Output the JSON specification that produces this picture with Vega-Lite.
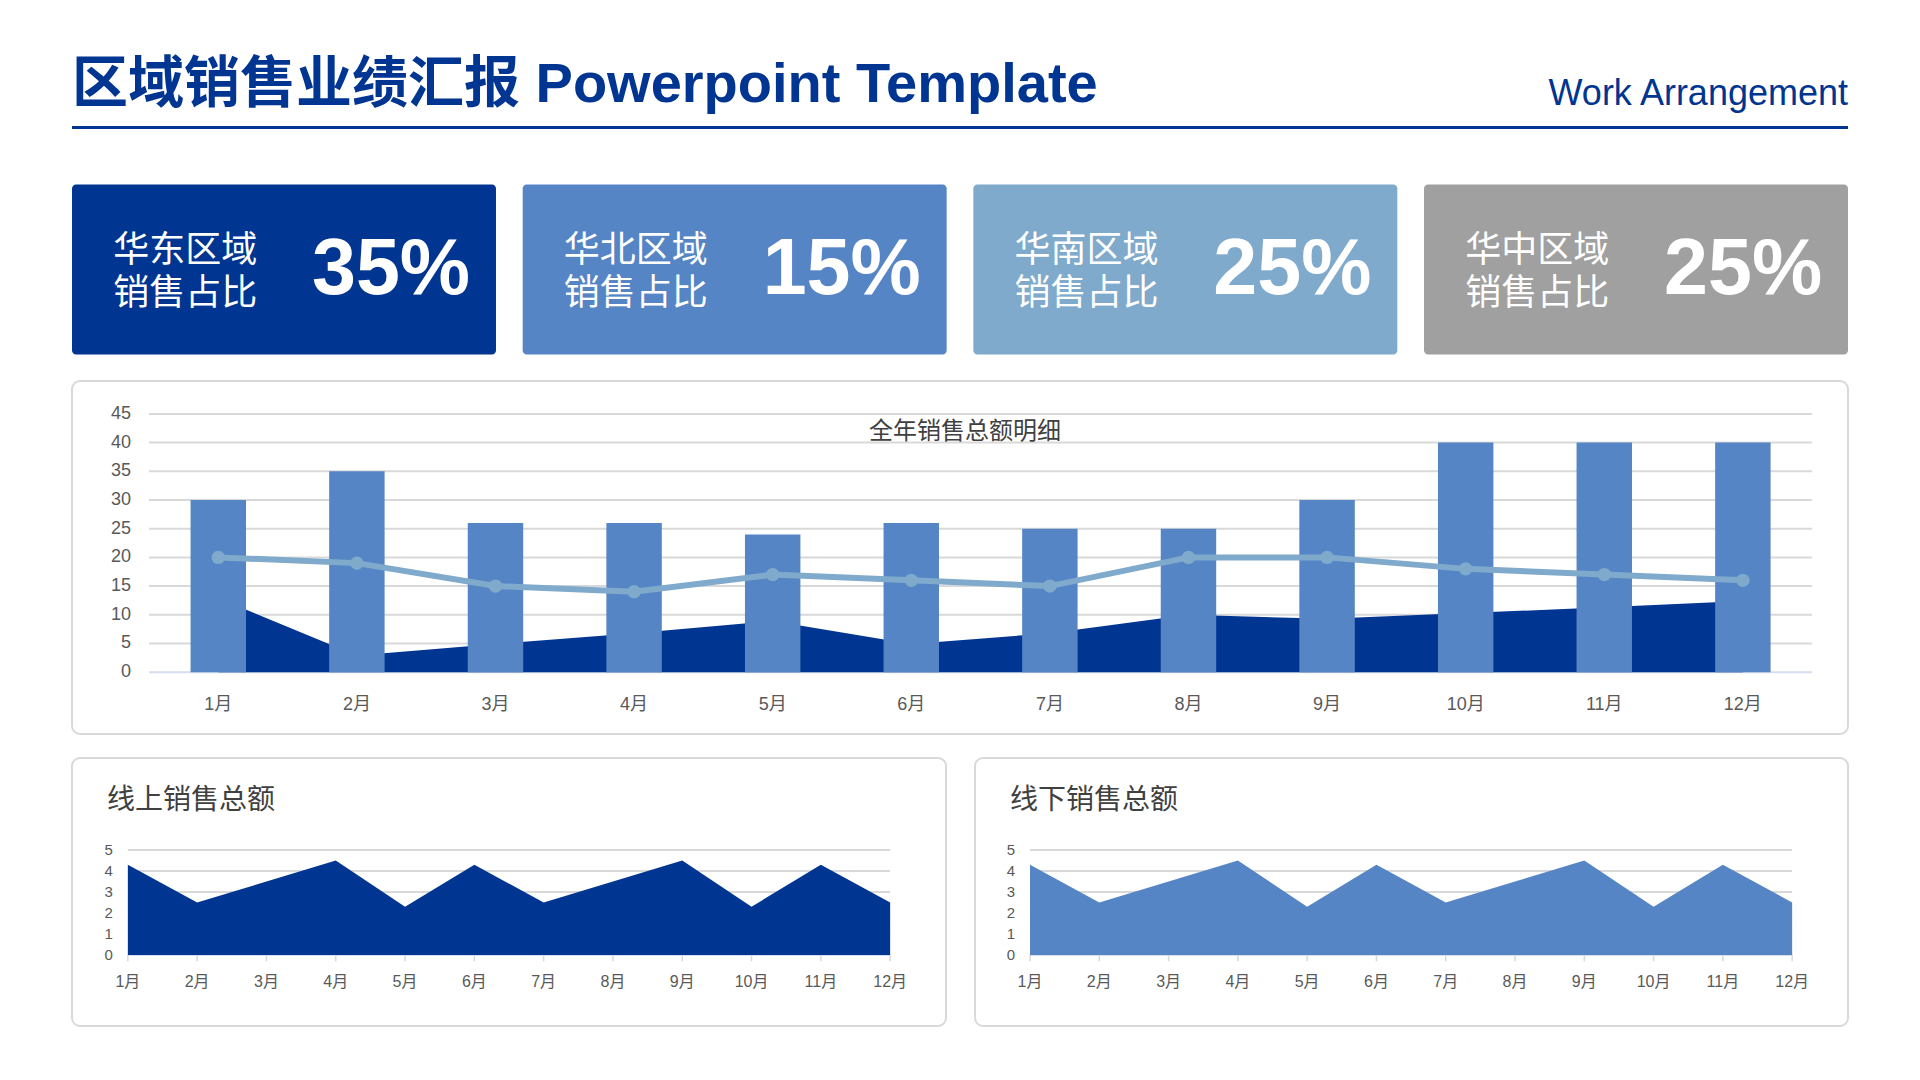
{
  "$schema": "https://vega.github.io/schema/vega-lite/v6.json",
  "background": "white",
  "padding": {"left": 71, "top": 56, "right": 0, "bottom": 0},
  "config": {
    "font": "Liberation Sans, Noto Sans CJK SC",
    "view": {"stroke": null},
    "title": {"font": "Liberation Sans, Noto Sans CJK SC"}
  },
  "datasets": {
    "cards": [
      {"region": "华东", "label": "华东区域\n销售占比", "share": 0.35},
      {"region": "华北", "label": "华北区域\n销售占比", "share": 0.15},
      {"region": "华南", "label": "华南区域\n销售占比", "share": 0.25},
      {"region": "华中", "label": "华中区域\n销售占比", "share": 0.25}
    ],
    "monthly": [
      {"month": "1月", "total": 30, "trend": 20, "base": 12.9},
      {"month": "2月", "total": 35, "trend": 19, "base": 2.9},
      {"month": "3月", "total": 26, "trend": 15, "base": 4.9},
      {"month": "4月", "total": 26, "trend": 14, "base": 6.8},
      {"month": "5月", "total": 24, "trend": 17, "base": 8.9},
      {"month": "6月", "total": 26, "trend": 16, "base": 4.9},
      {"month": "7月", "total": 25, "trend": 15, "base": 6.8},
      {"month": "8月", "total": 25, "trend": 20, "base": 10.0},
      {"month": "9月", "total": 30, "trend": 20, "base": 9.3},
      {"month": "10月", "total": 40, "trend": 18, "base": 10.3},
      {"month": "11月", "total": 40, "trend": 17, "base": 11.3},
      {"month": "12月", "total": 40, "trend": 16, "base": 12.4}
    ],
    "channel": [
      {"month": "1月", "online": 4.3, "offline": 4.3},
      {"month": "2月", "online": 2.5, "offline": 2.5},
      {"month": "3月", "online": 3.5, "offline": 3.5},
      {"month": "4月", "online": 4.5, "offline": 4.5},
      {"month": "5月", "online": 2.3, "offline": 2.3},
      {"month": "6月", "online": 4.3, "offline": 4.3},
      {"month": "7月", "online": 2.5, "offline": 2.5},
      {"month": "8月", "online": 3.5, "offline": 3.5},
      {"month": "9月", "online": 4.5, "offline": 4.5},
      {"month": "10月", "online": 2.3, "offline": 2.3},
      {"month": "11月", "online": 4.3, "offline": 4.3},
      {"month": "12月", "online": 2.5, "offline": 2.5}
    ],
    "gridMain": [{"v": 0}, {"v": 5}, {"v": 10}, {"v": 15}, {"v": 20}, {"v": 25}, {"v": 30}, {"v": 35}, {"v": 40}, {"v": 45}],
    "gridMini": [{"v": 0}, {"v": 1}, {"v": 2}, {"v": 3}, {"v": 4}, {"v": 5}]
  },
  "spacing": 51.5,
  "vconcat": [
    {
      "spacing": 0,
      "hconcat": [
        {
          "width": 1200, "height": 3,
          "view": {"fill": "#003591", "stroke": null},
          "title": {"text": "区域销售业绩汇报 Powerpoint Template", "anchor": "start", "frame": "group", "baseline": "alphabetic", "offset": -36, "fontSize": 56, "fontWeight": "bold", "color": "#003591"},
          "data": {"values": [{"part": "header"}]},
          "mark": {"type": "text", "opacity": 0},
          "encoding": {}
        },
        {
          "width": 576, "height": 3,
          "view": {"fill": "#003591", "stroke": null},
          "title": {"text": "Work Arrangement", "anchor": "end", "frame": "group", "baseline": "alphabetic", "offset": -19, "fontSize": 36, "fontWeight": "normal", "color": "#003591"},
          "data": {"values": [{"part": "header"}]},
          "mark": {"type": "text", "opacity": 0},
          "encoding": {}
        }
      ]
    },
    {
      "spacing": 25.5,
      "vconcat": [
        {
          "width": 1776, "height": 170,
          "data": {"name": "cards"},
          "encoding": {"x": {"field": "region", "type": "nominal", "scale": {"type": "band", "domain": ["华东", "华北", "华南", "华中"], "paddingInner": 0.0592, "paddingOuter": 0}, "axis": null}},
          "layer": [
            {
              "mark": {"type": "rect", "cornerRadius": 4},
              "encoding": {"color": {"field": "region", "type": "nominal", "scale": {"domain": ["华东", "华北", "华南", "华中"], "range": ["#003591", "#5585c5", "#7faacc", "#a0a0a0"]}, "legend": null}}
            },
            {
              "mark": {"type": "text", "align": "left", "baseline": "middle", "lineBreak": "\n", "fontSize": 36, "lineHeight": 43, "dy": -19, "color": "white"},
              "encoding": {
                "x": {"field": "region", "type": "nominal", "bandPosition": 0.097, "scale": {"type": "band", "domain": ["华东", "华北", "华南", "华中"], "paddingInner": 0.0592, "paddingOuter": 0}, "axis": null},
                "text": {"field": "label"}
              }
            },
            {
              "mark": {"type": "text", "align": "right", "baseline": "middle", "fontSize": 79, "fontWeight": "bold", "color": "white", "font": "Liberation Sans"},
              "encoding": {
                "x": {"field": "region", "type": "nominal", "bandPosition": 0.939, "scale": {"type": "band", "domain": ["华东", "华北", "华南", "华中"], "paddingInner": 0.0592, "paddingOuter": 0}, "axis": null},
                "text": {"field": "share", "type": "quantitative", "format": ".0%"}
              }
            }
          ]
        },
        {
          "spacing": 22,
          "vconcat": [
            {
              "width": 1776, "height": 353,
              "view": {"stroke": "#d9d9d9", "strokeWidth": 2, "cornerRadius": 8},
              "title": {"text": "全年销售总额明细", "anchor": "middle", "frame": "group", "baseline": "middle", "offset": -75, "dx": 5, "fontSize": 24, "fontWeight": "normal", "color": "#404040"},
              "layer": [
                {
                  "data": {"name": "gridMain"},
                  "mark": {"type": "rule", "strokeWidth": 2},
                  "encoding": {
                    "y": {"field": "v", "type": "quantitative", "scale": {"domain": [-10.77, 50.73], "nice": false, "zero": false}, "axis": null},
                    "x": {"datum": "1月", "type": "ordinal", "bandPosition": -0.75, "scale": {"type": "band", "domain": ["1月", "2月", "3月", "4月", "5月", "6月", "7月", "8月", "9月", "10月", "11月", "12月"], "paddingInner": 0.6, "paddingOuter": 0.707, "align": 0.605}, "axis": null},
                    "x2": {"datum": "12月", "bandPosition": 1.746},
                    "color": {"condition": {"test": "datum.v === 0", "value": "#d5deee"}, "value": "#d9d9d9"}
                  }
                },
                {
                  "data": {"name": "gridMain"},
                  "mark": {"type": "text", "align": "right", "baseline": "middle", "fontSize": 18, "color": "#595959"},
                  "encoding": {
                    "y": {"field": "v", "type": "quantitative", "scale": {"domain": [-10.77, 50.73], "nice": false, "zero": false}, "axis": null},
                    "x": {"datum": "1月", "type": "ordinal", "bandPosition": -1.075, "scale": {"type": "band", "domain": ["1月", "2月", "3月", "4月", "5月", "6月", "7月", "8月", "9月", "10月", "11月", "12月"], "paddingInner": 0.6, "paddingOuter": 0.707, "align": 0.605}, "axis": null},
                    "text": {"field": "v", "type": "quantitative"}
                  }
                },
                {
                  "data": {"name": "monthly"},
                  "mark": {"type": "area", "color": "#003591"},
                  "encoding": {
                    "x": {"field": "month", "type": "ordinal", "bandPosition": 0.5, "scale": {"type": "band", "domain": ["1月", "2月", "3月", "4月", "5月", "6月", "7月", "8月", "9月", "10月", "11月", "12月"], "paddingInner": 0.6, "paddingOuter": 0.707, "align": 0.605}, "axis": null},
                    "y": {"field": "base", "type": "quantitative", "scale": {"domain": [-10.77, 50.73], "nice": false, "zero": false}, "axis": null},
                    "y2": {"datum": 0}
                  }
                },
                {
                  "data": {"name": "monthly"},
                  "mark": {"type": "bar", "color": "#5585c5"},
                  "encoding": {
                    "x": {"field": "month", "type": "ordinal", "scale": {"type": "band", "domain": ["1月", "2月", "3月", "4月", "5月", "6月", "7月", "8月", "9月", "10月", "11月", "12月"], "paddingInner": 0.6, "paddingOuter": 0.707, "align": 0.605}, "axis": null},
                    "y": {"field": "total", "type": "quantitative", "scale": {"domain": [-10.77, 50.73], "nice": false, "zero": false}, "axis": null},
                    "y2": {"datum": 0}
                  }
                },
                {
                  "data": {"name": "monthly"},
                  "mark": {"type": "line", "color": "#7faacc", "strokeWidth": 6, "point": {"filled": true, "size": 180, "color": "#7faacc"}},
                  "encoding": {
                    "x": {"field": "month", "type": "ordinal", "bandPosition": 0.5, "scale": {"type": "band", "domain": ["1月", "2月", "3月", "4月", "5月", "6月", "7月", "8月", "9月", "10月", "11月", "12月"], "paddingInner": 0.6, "paddingOuter": 0.707, "align": 0.605}, "axis": null},
                    "y": {"field": "trend", "type": "quantitative", "scale": {"domain": [-10.77, 50.73], "nice": false, "zero": false}, "axis": null}
                  }
                },
                {
                  "data": {"name": "monthly"},
                  "mark": {"type": "text", "align": "center", "baseline": "middle", "fontSize": 18, "color": "#595959"},
                  "encoding": {
                    "x": {"field": "month", "type": "ordinal", "bandPosition": 0.5, "scale": {"type": "band", "domain": ["1月", "2月", "3月", "4月", "5月", "6月", "7月", "8月", "9月", "10月", "11月", "12月"], "paddingInner": 0.6, "paddingOuter": 0.707, "align": 0.605}, "axis": null},
                    "y": {"datum": -5.75, "type": "quantitative", "scale": {"domain": [-10.77, 50.73], "nice": false, "zero": false}, "axis": null},
                    "text": {"field": "month"}
                  }
                }
              ]
            },
            {
              "spacing": 27,
              "hconcat": [
                {
                  "width": 874, "height": 268,
                  "view": {"stroke": "#d9d9d9", "strokeWidth": 2, "cornerRadius": 8},
                  "title": {"text": "线上销售总额", "anchor": "start", "frame": "group", "baseline": "middle", "offset": -71, "dx": 35, "fontSize": 28, "fontWeight": "normal", "color": "#404040"},
                  "layer": [
                    {
                      "data": {"name": "gridMini"},
                      "mark": {"type": "rule", "strokeWidth": 2},
                      "encoding": {
                        "y": {"field": "v", "type": "quantitative", "scale": {"domain": [-3.381, 9.381], "nice": false, "zero": false}, "axis": null},
                        "x": {"datum": "1月", "type": "ordinal", "bandPosition": 0.5, "scale": {"type": "band", "domain": ["1月", "2月", "3月", "4月", "5月", "6月", "7月", "8月", "9月", "10月", "11月", "12月"], "paddingInner": 0, "paddingOuter": 0.306, "align": 0.5}, "axis": null},
                        "x2": {"datum": "12月", "bandPosition": 0.5},
                        "color": {"condition": {"test": "datum.v === 0", "value": "#d5deee"}, "value": "#d9d9d9"}
                      }
                    },
                    {
                      "data": {"name": "gridMini"},
                      "mark": {"type": "text", "align": "right", "baseline": "middle", "fontSize": 15, "color": "#595959"},
                      "encoding": {
                        "y": {"field": "v", "type": "quantitative", "scale": {"domain": [-3.381, 9.381], "nice": false, "zero": false}, "axis": null},
                        "x": {"datum": "1月", "type": "ordinal", "bandPosition": 0.284, "scale": {"type": "band", "domain": ["1月", "2月", "3月", "4月", "5月", "6月", "7月", "8月", "9月", "10月", "11月", "12月"], "paddingInner": 0, "paddingOuter": 0.306, "align": 0.5}, "axis": null},
                        "text": {"field": "v", "type": "quantitative"}
                      }
                    },
                    {
                      "data": {"name": "channel"},
                      "mark": {"type": "rule", "color": "#d9d9d9", "strokeWidth": 1.5},
                      "encoding": {
                        "x": {"field": "month", "type": "ordinal", "bandPosition": 0.5, "scale": {"type": "band", "domain": ["1月", "2月", "3月", "4月", "5月", "6月", "7月", "8月", "9月", "10月", "11月", "12月"], "paddingInner": 0, "paddingOuter": 0.306, "align": 0.5}, "axis": null},
                        "y": {"datum": 0, "type": "quantitative", "scale": {"domain": [-3.381, 9.381], "nice": false, "zero": false}, "axis": null},
                        "y2": {"datum": -0.3}
                      }
                    },
                    {
                      "data": {"name": "channel"},
                      "mark": {"type": "area", "color": "#003591"},
                      "encoding": {
                        "x": {"field": "month", "type": "ordinal", "bandPosition": 0.5, "scale": {"type": "band", "domain": ["1月", "2月", "3月", "4月", "5月", "6月", "7月", "8月", "9月", "10月", "11月", "12月"], "paddingInner": 0, "paddingOuter": 0.306, "align": 0.5}, "axis": null},
                        "y": {"field": "online", "type": "quantitative", "scale": {"domain": [-3.381, 9.381], "nice": false, "zero": false}, "axis": null},
                        "y2": {"datum": 0}
                      }
                    },
                    {
                      "data": {"name": "channel"},
                      "mark": {"type": "text", "align": "center", "baseline": "middle", "fontSize": 16, "color": "#595959"},
                      "encoding": {
                        "x": {"field": "month", "type": "ordinal", "bandPosition": 0.5, "scale": {"type": "band", "domain": ["1月", "2月", "3月", "4月", "5月", "6月", "7月", "8月", "9月", "10月", "11月", "12月"], "paddingInner": 0, "paddingOuter": 0.306, "align": 0.5}, "axis": null},
                        "y": {"datum": -1.286, "type": "quantitative", "scale": {"domain": [-3.381, 9.381], "nice": false, "zero": false}, "axis": null},
                        "text": {"field": "month"}
                      }
                    }
                  ]
                },
                {
                  "width": 873, "height": 268,
                  "view": {"stroke": "#d9d9d9", "strokeWidth": 2, "cornerRadius": 8},
                  "title": {"text": "线下销售总额", "anchor": "start", "frame": "group", "baseline": "middle", "offset": -71, "dx": 35, "fontSize": 28, "fontWeight": "normal", "color": "#404040"},
                  "layer": [
                    {
                      "data": {"name": "gridMini"},
                      "mark": {"type": "rule", "strokeWidth": 2},
                      "encoding": {
                        "y": {"field": "v", "type": "quantitative", "scale": {"domain": [-3.381, 9.381], "nice": false, "zero": false}, "axis": null},
                        "x": {"datum": "1月", "type": "ordinal", "bandPosition": 0.5, "scale": {"type": "band", "domain": ["1月", "2月", "3月", "4月", "5月", "6月", "7月", "8月", "9月", "10月", "11月", "12月"], "paddingInner": 0, "paddingOuter": 0.3, "align": 0.49}, "axis": null},
                        "x2": {"datum": "12月", "bandPosition": 0.5},
                        "color": {"condition": {"test": "datum.v === 0", "value": "#d5deee"}, "value": "#d9d9d9"}
                      }
                    },
                    {
                      "data": {"name": "gridMini"},
                      "mark": {"type": "text", "align": "right", "baseline": "middle", "fontSize": 15, "color": "#595959"},
                      "encoding": {
                        "y": {"field": "v", "type": "quantitative", "scale": {"domain": [-3.381, 9.381], "nice": false, "zero": false}, "axis": null},
                        "x": {"datum": "1月", "type": "ordinal", "bandPosition": 0.284, "scale": {"type": "band", "domain": ["1月", "2月", "3月", "4月", "5月", "6月", "7月", "8月", "9月", "10月", "11月", "12月"], "paddingInner": 0, "paddingOuter": 0.3, "align": 0.49}, "axis": null},
                        "text": {"field": "v", "type": "quantitative"}
                      }
                    },
                    {
                      "data": {"name": "channel"},
                      "mark": {"type": "rule", "color": "#d9d9d9", "strokeWidth": 1.5},
                      "encoding": {
                        "x": {"field": "month", "type": "ordinal", "bandPosition": 0.5, "scale": {"type": "band", "domain": ["1月", "2月", "3月", "4月", "5月", "6月", "7月", "8月", "9月", "10月", "11月", "12月"], "paddingInner": 0, "paddingOuter": 0.3, "align": 0.49}, "axis": null},
                        "y": {"datum": 0, "type": "quantitative", "scale": {"domain": [-3.381, 9.381], "nice": false, "zero": false}, "axis": null},
                        "y2": {"datum": -0.3}
                      }
                    },
                    {
                      "data": {"name": "channel"},
                      "mark": {"type": "area", "color": "#5585c5"},
                      "encoding": {
                        "x": {"field": "month", "type": "ordinal", "bandPosition": 0.5, "scale": {"type": "band", "domain": ["1月", "2月", "3月", "4月", "5月", "6月", "7月", "8月", "9月", "10月", "11月", "12月"], "paddingInner": 0, "paddingOuter": 0.3, "align": 0.49}, "axis": null},
                        "y": {"field": "offline", "type": "quantitative", "scale": {"domain": [-3.381, 9.381], "nice": false, "zero": false}, "axis": null},
                        "y2": {"datum": 0}
                      }
                    },
                    {
                      "data": {"name": "channel"},
                      "mark": {"type": "text", "align": "center", "baseline": "middle", "fontSize": 16, "color": "#595959"},
                      "encoding": {
                        "x": {"field": "month", "type": "ordinal", "bandPosition": 0.5, "scale": {"type": "band", "domain": ["1月", "2月", "3月", "4月", "5月", "6月", "7月", "8月", "9月", "10月", "11月", "12月"], "paddingInner": 0, "paddingOuter": 0.3, "align": 0.49}, "axis": null},
                        "y": {"datum": -1.286, "type": "quantitative", "scale": {"domain": [-3.381, 9.381], "nice": false, "zero": false}, "axis": null},
                        "text": {"field": "month"}
                      }
                    }
                  ]
                }
              ]
            }
          ]
        }
      ]
    }
  ]
}
